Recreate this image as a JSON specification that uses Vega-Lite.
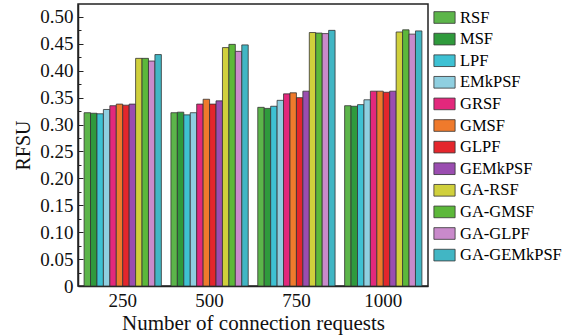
{
  "$schema": "https://vega.github.io/schema/vega-lite/v6.json",
  "width": 350,
  "height": 282,
  "autosize": "none",
  "padding": {"left": 78, "top": 4, "right": 136, "bottom": 49},
  "background": "white",
  "config": {
    "font": "Liberation Serif",
    "view": {"stroke": "#222", "strokeWidth": 1.5},
    "axis": {"labelFont": "Liberation Serif", "titleFont": "Liberation Serif", "labelColor": "#111", "titleColor": "#111", "titleFontWeight": "normal", "domainColor": "#222", "domainWidth": 1.5, "tickColor": "#222"},
    "legend": {"labelFont": "Liberation Serif"}
  },
  "data": {"values": [
    {"n": "250", "method": "RSF", "value": 0.322},
    {"n": "250", "method": "MSF", "value": 0.321},
    {"n": "250", "method": "LPF", "value": 0.320},
    {"n": "250", "method": "EMkPSF", "value": 0.328},
    {"n": "250", "method": "GRSF", "value": 0.335},
    {"n": "250", "method": "GMSF", "value": 0.338},
    {"n": "250", "method": "GLPF", "value": 0.336},
    {"n": "250", "method": "GEMkPSF", "value": 0.338},
    {"n": "250", "method": "GA-RSF", "value": 0.423},
    {"n": "250", "method": "GA-GMSF", "value": 0.423},
    {"n": "250", "method": "GA-GLPF", "value": 0.418},
    {"n": "250", "method": "GA-GEMkPSF", "value": 0.430},
    {"n": "500", "method": "RSF", "value": 0.322},
    {"n": "500", "method": "MSF", "value": 0.323},
    {"n": "500", "method": "LPF", "value": 0.318},
    {"n": "500", "method": "EMkPSF", "value": 0.322},
    {"n": "500", "method": "GRSF", "value": 0.338},
    {"n": "500", "method": "GMSF", "value": 0.347},
    {"n": "500", "method": "GLPF", "value": 0.338},
    {"n": "500", "method": "GEMkPSF", "value": 0.344},
    {"n": "500", "method": "GA-RSF", "value": 0.443},
    {"n": "500", "method": "GA-GMSF", "value": 0.449},
    {"n": "500", "method": "GA-GLPF", "value": 0.436},
    {"n": "500", "method": "GA-GEMkPSF", "value": 0.448},
    {"n": "750", "method": "RSF", "value": 0.332},
    {"n": "750", "method": "MSF", "value": 0.330},
    {"n": "750", "method": "LPF", "value": 0.334},
    {"n": "750", "method": "EMkPSF", "value": 0.345},
    {"n": "750", "method": "GRSF", "value": 0.357},
    {"n": "750", "method": "GMSF", "value": 0.359},
    {"n": "750", "method": "GLPF", "value": 0.350},
    {"n": "750", "method": "GEMkPSF", "value": 0.362},
    {"n": "750", "method": "GA-RSF", "value": 0.471},
    {"n": "750", "method": "GA-GMSF", "value": 0.470},
    {"n": "750", "method": "GA-GLPF", "value": 0.469},
    {"n": "750", "method": "GA-GEMkPSF", "value": 0.475},
    {"n": "1000", "method": "RSF", "value": 0.335},
    {"n": "1000", "method": "MSF", "value": 0.334},
    {"n": "1000", "method": "LPF", "value": 0.337},
    {"n": "1000", "method": "EMkPSF", "value": 0.346},
    {"n": "1000", "method": "GRSF", "value": 0.362},
    {"n": "1000", "method": "GMSF", "value": 0.362},
    {"n": "1000", "method": "GLPF", "value": 0.360},
    {"n": "1000", "method": "GEMkPSF", "value": 0.362},
    {"n": "1000", "method": "GA-RSF", "value": 0.472},
    {"n": "1000", "method": "GA-GMSF", "value": 0.476},
    {"n": "1000", "method": "GA-GLPF", "value": 0.468},
    {"n": "1000", "method": "GA-GEMkPSF", "value": 0.474}
  ]},
  "mark": {"type": "bar", "stroke": "#333", "strokeWidth": 0.8},
  "encoding": {
    "x": {
      "field": "n", "type": "ordinal", "sort": ["250", "500", "750", "1000"],
      "scale": {"paddingInner": 0.11, "paddingOuter": 0.07},
      "axis": {"title": "Number of connection requests", "labelAngle": 0, "labelFontSize": 19, "titleFontSize": 21, "ticks": false, "labelPadding": 5, "titlePadding": 2}
    },
    "xOffset": {
      "field": "method", "type": "nominal",
      "sort": ["RSF", "MSF", "LPF", "EMkPSF", "GRSF", "GMSF", "GLPF", "GEMkPSF", "GA-RSF", "GA-GMSF", "GA-GLPF", "GA-GEMkPSF"],
      "scale": {"paddingInner": 0, "paddingOuter": 0}
    },
    "y": {
      "field": "value", "type": "quantitative",
      "scale": {"domain": [0, 0.524], "nice": false},
      "axis": {
        "title": "RFSU", "titleFontSize": 20, "labelFontSize": 19, "titlePadding": 6,
        "values": [0, 0.025, 0.05, 0.075, 0.1, 0.125, 0.15, 0.175, 0.2, 0.225, 0.25, 0.275, 0.3, 0.325, 0.35, 0.375, 0.4, 0.425, 0.45, 0.475, 0.5],
        "labelExpr": "(round(datum.value*1000) % 50 != 0) ? '' : (datum.value == 0 ? '0' : format(datum.value, '.2f'))",
        "tickSize": {"condition": {"test": "round(datum.value*1000) % 50 == 0", "value": -5}, "value": -3},
        "labelPadding": 10,
        "grid": false
      }
    },
    "color": {
      "field": "method", "type": "nominal",
      "scale": {
        "domain": ["RSF", "MSF", "LPF", "EMkPSF", "GRSF", "GMSF", "GLPF", "GEMkPSF", "GA-RSF", "GA-GMSF", "GA-GLPF", "GA-GEMkPSF"],
        "range": ["#5cb54a", "#2f9a3c", "#3ec1d3", "#8fcfe0", "#e3287c", "#ef7a2c", "#e4262c", "#9a4db0", "#d0d03c", "#5cb83a", "#c98acb", "#41b6c4"]
      },
      "legend": {
        "title": null, "orient": "none", "legendX": 355, "legendY": 2,
        "symbolType": "M-1,-0.55H1V0.55H-1Z", "symbolSize": 450, "symbolStrokeColor": "#333", "symbolStrokeWidth": 0.8,
        "labelFontSize": 16.5, "rowPadding": 1.6, "labelOffset": 4, "symbolOpacity": 1
      }
    }
  }
}
